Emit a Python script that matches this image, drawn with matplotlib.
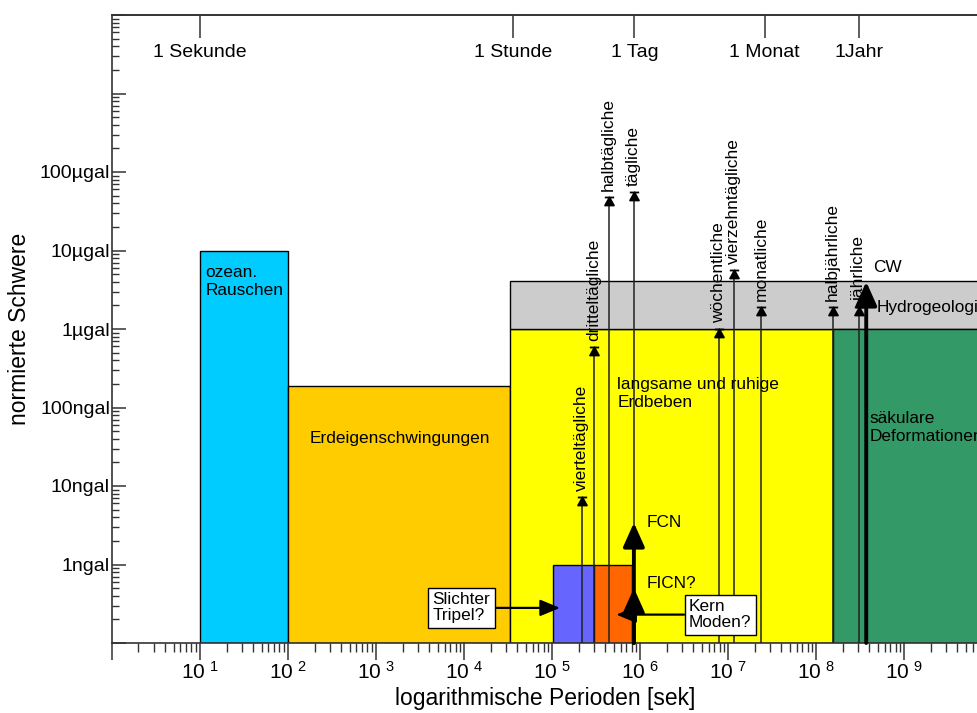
import matplotlib
matplotlib.use("Agg")
import matplotlib.pyplot as plt
from matplotlib.markers import MarkerStyle
from matplotlib.path import Path
from matplotlib.ticker import FixedLocator, FixedFormatter, LogLocator, NullLocator, NullFormatter

plt.rcParams["font.family"] = ["Liberation Sans", "DejaVu Sans"]
plt.rcParams["mathtext.fontset"] = "custom"
plt.rcParams["mathtext.rm"] = "Liberation Sans"

# signal regions: period range [s] and gravity range [gal]
reg_names = ["ozean.\nRauschen", "Erdeigenschwingungen", "langsame und ruhige\nErdbeben",
             "Hydrogeologie", "säkulare\nDeformationen", "Slichter", "Kern"]
reg_x0 = [1e1, 1e2, 10**4.52, 10**4.52, 10**8.19, 10**5.01, 10**5.48]
reg_x1 = [1e2, 10**4.52, 10**8.19, 1e10, 1e10, 10**5.48, 10**5.91]
reg_y0 = [1e-10, 1e-10, 1e-10, 1e-6, 1e-10, 1e-10, 1e-10]
reg_y1 = [1e-5, 1.9e-7, 1e-6, 4.1e-6, 1e-6, 1e-9, 1e-9]
reg_colors = ["#00CCFF", "#FFCC00", "#FFFF00", "#CCCCCC", "#339966", "#6666FF", "#FF6600"]

# tides
tide_names = ["vierteltägliche", "dritteltägliche", "halbtägliche", "tägliche",
              "wöchentliche", "vierzehntägliche", "monatliche", "halbjährliche", "jährliche"]
tide_period = [10**5.34, 10**5.48, 10**5.65, 10**5.93, 10**6.90, 10**7.07, 10**7.38, 10**8.19, 10**8.49]
tide_amp = [7.2e-9, 5.9e-7, 4.8e-5, 5.6e-5, 1.0e-6, 5.6e-6, 1.9e-6, 1.9e-6, 1.9e-6]

# nutation / wobble signals (thick arrows)
nut_names = ["FCN", "FICN?", "CW"]
nut_period = [10**5.93, 10**5.93, 10**8.57]
nut_amp = [3.4e-9, 5.0e-10, 4.0e-6]

# hypothetical signals with boxes
hyp_names = ["Slichter\nTripel?", "Kern\nModen?"]
hyp_period = [10**5.09, 10**5.73]
hyp_amp = [2.8e-10, 2.3e-10]
hyp_text_period = [10**3.97, 10**6.91]

top_ticks = [10, 3.6e4, 8.64e5, 2.6e7, 3.1e8]
top_labels = ["1 Sekunde", "1 Stunde", "1 Tag", "1 Monat", "1Jahr"]

y_major = [10.0**e for e in range(-10, -1)]
y_labels = ["", "1ngal", "10ngal", "100ngal", "1µgal", "10µgal", "100µgal", "", ""]
x_major = [10.0**e for e in range(0, 10)]
x_labels = [""] + [r"$\mathrm{10^{\ %d}}$" % e for e in range(1, 10)]

YMIN, YMAX = 1e-10, 1e-2
XMIN, XMAX = 1.0, 10**9.84

fig = plt.figure(figsize=(9.78, 7.13), dpi=100)
ax = fig.add_axes([112 / 978, 70 / 713, 1 - 112 / 978, 628 / 713])
ax.set_xscale("log")
ax.set_yscale("log")
ax.set_xlim(XMIN, XMAX)
ax.set_ylim(YMIN, YMAX)

for x0, x1, y0, y1, c in zip(reg_x0, reg_x1, reg_y0, reg_y1, reg_colors):
    ax.bar(x0, y1 - y0, width=x1 - x0, bottom=y0, align="edge",
           color=c, edgecolor="black", linewidth=1, zorder=1)

# tide marker: triangle with a bar on top, apex at the data point
tide_path = Path([(-1, -1.8), (1, -1.8), (0, 0), (-1, -1.8), (-1.05, 0), (1.05, 0)],
                 [Path.MOVETO, Path.LINETO, Path.LINETO, Path.CLOSEPOLY, Path.MOVETO, Path.LINETO])
tide_marker = MarkerStyle(tide_path)
ax.vlines(tide_period, YMIN, tide_amp, color="#222222", linewidth=1.1, zorder=3)
ax.plot(tide_period, tide_amp, linestyle="none", marker=tide_marker, markersize=11.5,
        color="black", markeredgewidth=1.3, zorder=4)
for name, x, y in zip(tide_names, tide_period, tide_amp):
    ax.annotate(name, (x, y), xytext=(-0.5, 4.5), textcoords="offset points",
                rotation=90, ha="center", va="bottom", fontsize=12.5, zorder=5)

for name, x, y in zip(nut_names, nut_period, nut_amp):
    ax.annotate("", xy=(x, y), xytext=(x, YMIN),
                arrowprops=dict(arrowstyle="-|>,head_length=1.45,head_width=0.65",
                                mutation_scale=10, lw=2.8, color="black",
                                shrinkA=0, shrinkB=0), zorder=6)
ax.text(10**6.07, 10**-8.46, nut_names[0], fontsize=12.4, va="center", ha="left", zorder=7)
ax.text(10**6.07, 10**-9.24, nut_names[1], fontsize=12.4, va="center", ha="left", zorder=7)
ax.text(10**8.65, 10**-5.22, nut_names[2], fontsize=12.4, va="center", ha="left", zorder=7)

for name, x, y, tx in zip(hyp_names, hyp_period, hyp_amp, hyp_text_period):
    ax.annotate(name, xy=(x, y), xytext=(tx, y), ha="center", va="center",
                multialignment="left", fontsize=12.4, linespacing=1.1,
                bbox=dict(boxstyle="square,pad=0.25", fc="white", ec="black", lw=1),
                arrowprops=dict(arrowstyle="-|>,head_length=0.6,head_width=0.25",
                                mutation_scale=20, lw=1.6, color="black",
                                shrinkA=0, shrinkB=0), zorder=8)

# region labels
ax.text(10**1.06, 10**-5.19, reg_names[0], fontsize=12.4, va="top", ha="left", linespacing=1.2, zorder=7)
ax.text(10**3.27, 10**-7.39, reg_names[1], fontsize=12.4, va="center", ha="center", zorder=7)
ax.text(10**5.74, 10**-6.61, reg_names[2], fontsize=12.4, va="top", ha="left", linespacing=1.25, zorder=7)
ax.text(10**8.69, 10**-5.72, reg_names[3], fontsize=12.4, va="center", ha="left", zorder=7)
ax.text(10**8.61, 10**-7.04, reg_names[4], fontsize=12.4, va="top", ha="left", linespacing=1.25, zorder=7)

# axes styling
spine_c = "#333333"
for side in ["left", "bottom", "top"]:
    ax.spines[side].set_color(spine_c)
    ax.spines[side].set_linewidth(1.2)
ax.spines["right"].set_visible(False)

ax.yaxis.set_major_locator(FixedLocator(y_major))
ax.yaxis.set_major_formatter(FixedFormatter(y_labels))
ax.yaxis.set_minor_locator(LogLocator(base=10, subs=range(2, 10), numticks=20))
ax.yaxis.set_minor_formatter(NullFormatter())
ax.tick_params(axis="y", which="major", direction="in", length=10, width=1.1,
               color=spine_c, labelsize=14, pad=1.5)
ax.tick_params(axis="y", which="minor", direction="in", length=5, width=1.0, color=spine_c)

ax.xaxis.set_major_locator(FixedLocator(x_major))
ax.xaxis.set_major_formatter(FixedFormatter(x_labels))
ax.xaxis.set_minor_locator(LogLocator(base=10, subs=range(2, 10), numticks=20))
ax.xaxis.set_minor_formatter(NullFormatter())
ax.tick_params(axis="x", which="major", direction="out", length=12, width=1.1,
               color=spine_c, labelsize=15, pad=1)
ax.tick_params(axis="x", which="minor", direction="out", length=6.5, width=1.0, color=spine_c)

sec = ax.secondary_xaxis("top")
sec.set_xscale("log")
sec.xaxis.set_major_locator(FixedLocator(top_ticks))
sec.xaxis.set_major_formatter(FixedFormatter(top_labels))
sec.xaxis.set_minor_locator(NullLocator())
sec.tick_params(axis="x", which="major", direction="in", length=16.5, width=1.1,
                color=spine_c, labelsize=14, pad=-33)
sec.spines["top"].set_color(spine_c)
sec.spines["top"].set_linewidth(1.2)

ax.set_ylabel("normierte Schwere", fontsize=16.5, labelpad=6)
ax.set_xlabel("logarithmische Perioden [sek]", fontsize=16.5, labelpad=3)

fig.savefig("out.png", dpi=100)
